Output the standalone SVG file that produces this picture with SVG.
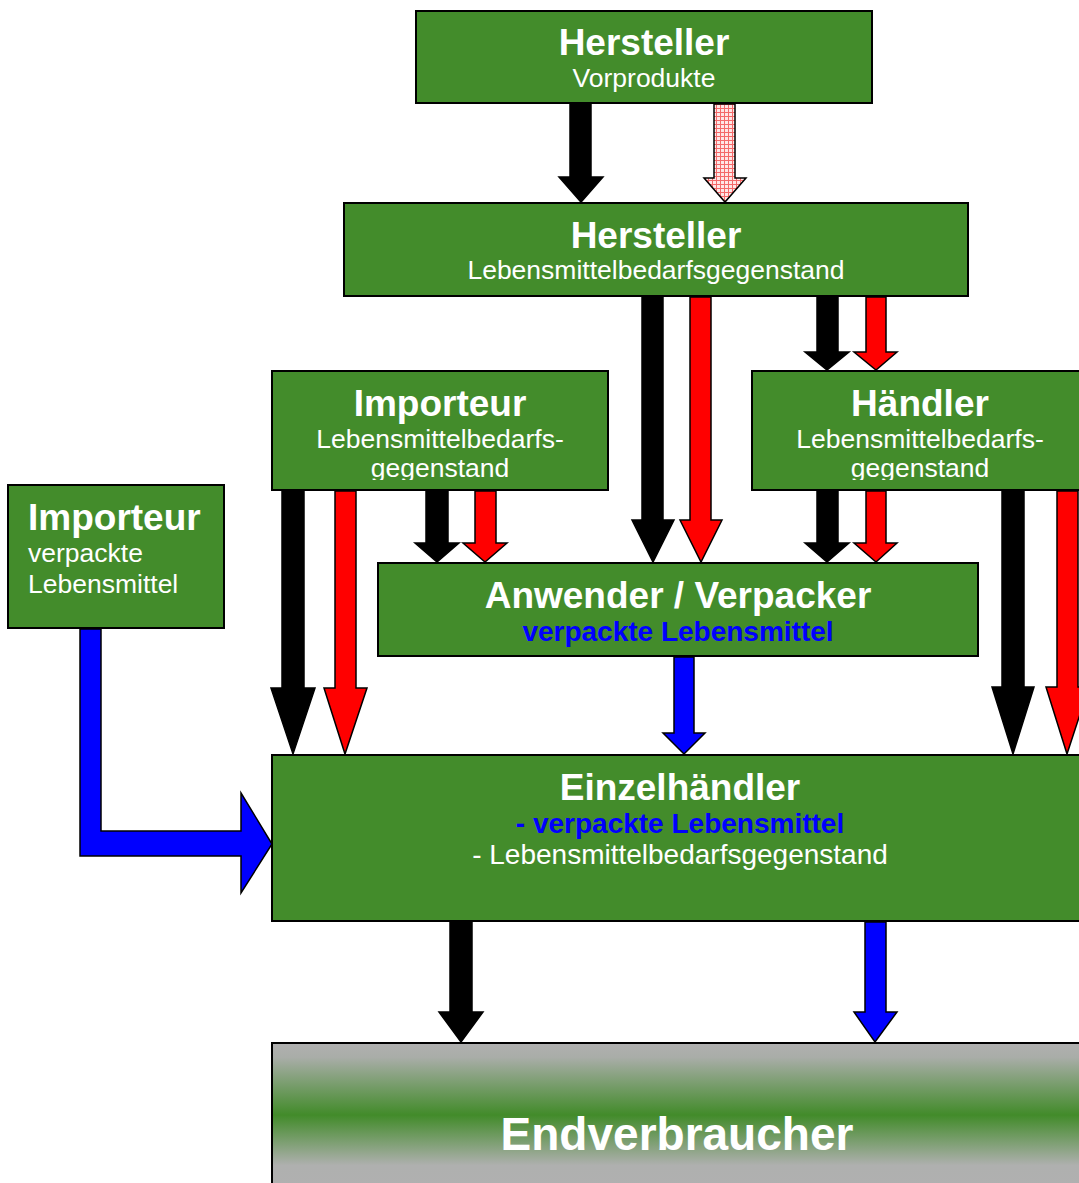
<svg xmlns="http://www.w3.org/2000/svg" width="1079" height="1183" viewBox="0 0 1079 1183">
<defs>
<style>
.box{fill:#438C2B;stroke:#000;stroke-width:2}
.t{font-family:"Liberation Sans",Arial,sans-serif;fill:#fff;text-anchor:middle}
.b{font-weight:bold;font-size:37px}
.s{font-size:26.5px}
.bl{font-weight:bold;font-size:28px;fill:#0000FF}
.ar{stroke:#000;stroke-width:1.5;stroke-linejoin:miter}
.k{fill:#000}
.r{fill:#FF0000}
.u{fill:#0000FF}
.p{fill:url(#hatch)}
</style>
<pattern id="hatch" width="4" height="4" patternUnits="userSpaceOnUse">
<rect width="4" height="4" fill="#FFE6E6"/>
<path d="M0,0.5H4M0.5,0V4" stroke="#F46A6A" stroke-width="1"/>
</pattern>
<linearGradient id="endg" x1="0" y1="0" x2="0" y2="1">
<stop offset="0" stop-color="#B0B0B0"/>
<stop offset="0.1" stop-color="#A9ADA8"/>
<stop offset="0.5" stop-color="#428B2A"/>
<stop offset="0.85" stop-color="#AFB0AF"/>
<stop offset="1" stop-color="#B0B0B0"/>
</linearGradient>
<clipPath id="clipImp"><rect x="272" y="371" width="336" height="109"/></clipPath>
<clipPath id="clipHae"><rect x="752" y="371" width="336" height="109"/></clipPath>
</defs>
<rect width="1079" height="1183" fill="#fff"/>

<g id="connectors">
<path class="ar k" d="M570,104H591V177H603L581,202L559,177H570Z"/>
<path class="ar p" d="M714,104H735V178H746L725,202L704,178H714Z"/>
<path class="ar k" d="M642,297H663V520H674L653,562L632,520H642Z"/>
<path class="ar r" d="M690,297H711V520H722L701,562L680,520H690Z"/>
<path class="ar k" d="M817,297H838V352H849L827,370L805,352H817Z"/>
<path class="ar r" d="M866,297H886V352H897L876,370L854,352H866Z"/>
<path class="ar k" d="M282,491H304V688H315L293,754L271,688H282Z"/>
<path class="ar r" d="M335,491H356V688H367L345,754L324,688H335Z"/>
<path class="ar k" d="M426,491H448V543H459L437,562L415,543H426Z"/>
<path class="ar r" d="M475,491H496V543H507L485,562L463,543H475Z"/>
<path class="ar k" d="M817,491H838V543H849L827,562L805,543H817Z"/>
<path class="ar r" d="M866,491H886V543H897L876,562L854,543H866Z"/>
<path class="ar k" d="M1002,491H1024V687H1034L1013,754L992,687H1002Z"/>
<path class="ar r" d="M1057,491H1078V687H1089L1067,754L1046,687H1057Z"/>
<path class="ar u" d="M674,657H694V733H705L684,754L663,733H674Z"/>
<path class="ar k" d="M450,922H472V1012H483L461,1042L439,1012H450Z"/>
<path class="ar u" d="M865,922H886V1012H897L875,1042L854,1012H865Z"/>
<path class="ar u" d="M80,629H101V831H241V793L272,844L241,893V856H80Z"/>
</g>

<g id="hersteller-vorprodukte">
<rect class="box" x="416" y="11" width="456" height="92"/>
<text class="t b" x="644" y="55">Hersteller</text>
<text class="t s" x="644" y="87">Vorprodukte</text>
</g>

<g id="hersteller-lbg">
<rect class="box" x="344" y="203" width="624" height="93"/>
<text class="t b" x="656" y="248">Hersteller</text>
<text class="t s" x="656" y="279">Lebensmittelbedarfsgegenstand</text>
</g>

<g id="importeur-lbg">
<rect class="box" x="272" y="371" width="336" height="119"/>
<text class="t b" x="440" y="416">Importeur</text>
<text class="t s" x="440" y="448">Lebensmittelbedarfs-</text>
<text class="t s" x="440" y="477" clip-path="url(#clipImp)">gegenstand</text>
</g>

<g id="haendler-lbg">
<rect class="box" x="752" y="371" width="336" height="119"/>
<text class="t b" x="920" y="416">Händler</text>
<text class="t s" x="920" y="448">Lebensmittelbedarfs-</text>
<text class="t s" x="920" y="477" clip-path="url(#clipHae)">gegenstand</text>
</g>

<g id="importeur-vl">
<rect class="box" x="8" y="485" width="216" height="143"/>
<text class="t b" x="28" y="530" style="text-anchor:start">Importeur</text>
<text class="t s" x="28" y="562" style="text-anchor:start">verpackte</text>
<text class="t s" x="28" y="593" style="text-anchor:start">Lebensmittel</text>
</g>

<g id="anwender-verpacker">
<rect class="box" x="378" y="563" width="600" height="93"/>
<text class="t b" x="678" y="608">Anwender / Verpacker</text>
<text class="t bl" x="678" y="641">verpackte Lebensmittel</text>
</g>

<g id="einzelhaendler">
<rect class="box" x="272" y="755" width="816" height="166"/>
<text class="t b" x="680" y="800">Einzelhändler</text>
<text class="t bl" x="680" y="833">- verpackte Lebensmittel</text>
<text class="t" x="680" y="864" style="font-size:28px">- Lebensmittelbedarfsgegenstand</text>
</g>

<g id="endverbraucher">
<rect x="272" y="1043" width="816" height="144" fill="url(#endg)" stroke="#000" stroke-width="2"/>
<text class="t" x="677" y="1150" style="font-weight:bold;font-size:46px">Endverbraucher</text>
</g>
</svg>
